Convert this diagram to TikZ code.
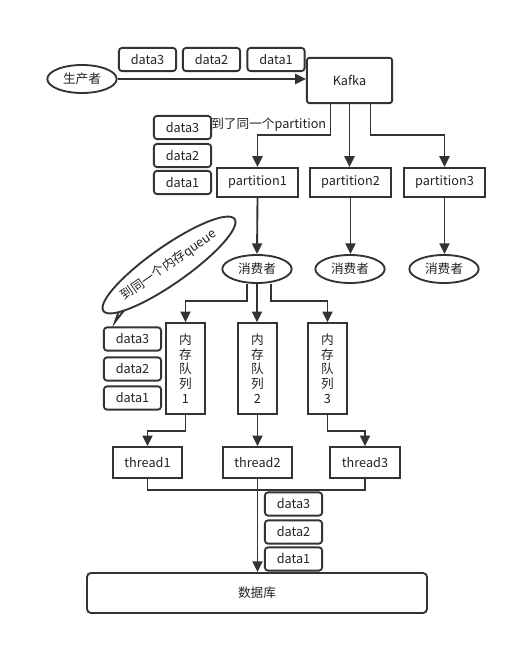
\documentclass[tikz,border=0pt]{standalone}
\usepackage{fontspec}
\setmainfont{Noto Sans CJK SC}
\usepackage{tikz}
\usetikzlibrary{arrows.meta,calc,shapes.geometric}
\definecolor{clLine}{HTML}{333333}
\definecolor{clText}{HTML}{222222}
\tikzset{
  base/.style={draw=clLine, line width=1.4pt, text=clText, inner sep=0pt,
               font=\fontsize{9.5}{11}\selectfont},
  databox/.style={base, rectangle, rounded corners=2.5pt, minimum width=43pt, minimum height=17.5pt},
  sysbox/.style={base, rectangle, rounded corners=2pt, minimum width=64pt, minimum height=34pt},
  partbox/.style={base, rectangle, minimum width=61pt, minimum height=22pt},
  queuebox/.style={base, rectangle, minimum width=29pt, minimum height=68pt, align=center},
  threadbox/.style={base, rectangle, minimum width=52pt, minimum height=23pt},
  dbbox/.style={base, rectangle, rounded corners=3pt, minimum width=255pt, minimum height=30pt},
  actor/.style={base, ellipse, minimum width=52pt, minimum height=21pt},
  flow/.style={-{Triangle[length=8pt,width=7.5pt]}, line width=1.4pt, draw=clLine},
  link/.style={line width=1.4pt, draw=clLine},
  note/.style={font=\fontsize{9.5}{11}\selectfont, text=clText, inner sep=0pt},
}
\begin{document}
\begin{tikzpicture}[x=0.75pt,y=-0.75pt]
  \useasboundingbox (0,0) rectangle (517,645);
  % producer and kafka
  \node[actor] (prod) at (82,79) {生产者};
  \node[databox] (d3a) at (147.5,59.5) {data3};
  \node[databox] (d2a) at (211.5,59.5) {data2};
  \node[databox] (d1a) at (276,59.5) {data1};
  \node[sysbox] (kafka) at (349.5,80.5) {Kafka};
  \draw[flow] (prod.east) -- (prod.east -| kafka.west);
  % partitions
  \node[partbox] (p1) at (257.5,182.5) {partition1};
  \node[partbox] (p2) at (350.5,182.5) {partition2};
  \node[partbox] (p3) at (444.5,182.5) {partition3};
  \node[databox] (d3b) at (182.5,127.5) {data3};
  \node[databox] (d2b) at (182.5,155.5) {data2};
  \node[databox] (d1b) at (182.5,182.5) {data1};
  \node[note, anchor=west] (samepart) at (211,125) {到了同一个partition};
  \draw[flow] ($(kafka.south)+(-19,0)$) -- ++(0,31) -| (p1.north);
  \draw[flow] (kafka.south) -- (kafka.south |- p2.north);
  \draw[flow] ($(kafka.south)+(21,0)$) -- ++(0,31) -| (p3.north);
  % consumers
  \node[actor] (c1) at (257,269) {消费者};
  \node[actor] (c2) at (350,269) {消费者};
  \node[actor] (c3) at (444,269) {消费者};
  \draw[flow] (p1.south) -- (c1.north);
  \draw[flow] (p2.south) -- (p2.south |- c2.north);
  \draw[flow] (p3.south) -- (p3.south |- c3.north);
  % memory queues
  \node[queuebox] (q1) at (185.5,368.5) {内\\存\\队\\列\\1};
  \node[queuebox] (q2) at (257.5,368.5) {内\\存\\队\\列\\2};
  \node[queuebox] (q3) at (327.5,368.5) {内\\存\\队\\列\\3};
  \node[databox] (d3c) at (132.5,339) {data3};
  \node[databox] (d2c) at (132.5,369) {data2};
  \node[databox] (d1c) at (132.5,398) {data1};
  \draw[flow] ($(c1.south)+(-10,0)$) -- ++(0,17) -| (q1.north);
  \draw[flow] (c1.south) -- (c1.south |- q2.north);
  \draw[flow] ($(c1.south)+(14,0)$) -- ++(0,17) -| (q3.north);
  % callout
  \coordinate (qtip) at (115,322);
  \draw[link, fill=white] ($(169,265)+(-46,34)$) -- (qtip) -- ($(169,265)+(-40,39)$);
  \node[base, ellipse, fill=white, rotate=35, minimum width=117pt, minimum height=28pt] (qnote) at (169,265) {到同一个内存queue};
  \draw[white, line width=1.7pt] ($(169,265)+(-44.5,35.5)$) -- ($(169,265)+(-41.5,37.5)$);
  % threads
  \node[threadbox] (t1) at (147.5,462.5) {thread1};
  \node[threadbox] (t2) at (257.5,462.5) {thread2};
  \node[threadbox] (t3) at (365,462.5) {thread3};
  \draw[flow] (q1.south) -- ++(0,16) -| (t1.north);
  \draw[flow] (q2.south) -- (t2.north);
  \draw[flow] (q3.south) -- ++(0,16) -| (t3.north);
  % database
  \node[dbbox] (db) at (257,593) {数据库};
  \node[databox] (d3d) at (293.5,504) {data3};
  \node[databox] (d2d) at (293.5,532) {data2};
  \node[databox] (d1d) at (293.5,559) {data1};
  \draw[link] (t1.south) -- ++(0,11) -| (t3.south);
  \draw[flow] (t2.south) -- (t2.south |- db.north);
\end{tikzpicture}
\end{document}
